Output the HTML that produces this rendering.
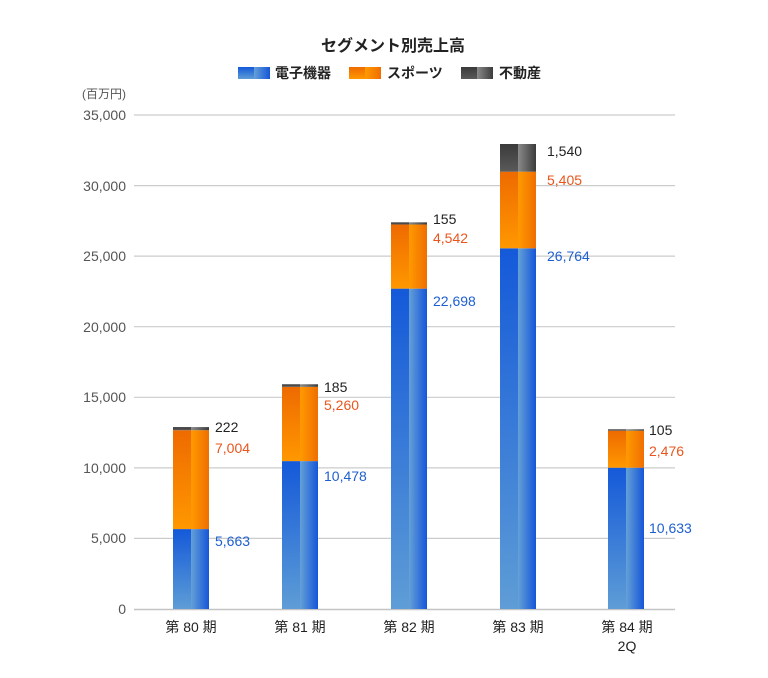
<!DOCTYPE html>
<html><head><meta charset="utf-8"><style>
html,body{margin:0;padding:0;background:#fff;}
svg{display:block;}
text{font-family:"Liberation Sans","Noto Sans CJK JP",sans-serif;}
</style></head><body>
<svg width="768" height="678" viewBox="0 0 768 678" xmlns="http://www.w3.org/2000/svg">
<defs>
<linearGradient id="bL" x1="0" y1="0" x2="0" y2="1"><stop offset="0" stop-color="#1459d9"/><stop offset="1" stop-color="#5e9dd6"/></linearGradient>
<linearGradient id="bR" x1="0" y1="0" x2="1" y2="0"><stop offset="0" stop-color="#64a0d8"/><stop offset="1" stop-color="#1656d8"/></linearGradient>
<linearGradient id="oL" x1="0" y1="0" x2="0" y2="1"><stop offset="0" stop-color="#ee6a00"/><stop offset="1" stop-color="#ff9800"/></linearGradient>
<linearGradient id="oR" x1="0" y1="0" x2="1" y2="0"><stop offset="0" stop-color="#ff9a00"/><stop offset="1" stop-color="#f06e00"/></linearGradient>
<linearGradient id="gL" x1="0" y1="0" x2="0" y2="1"><stop offset="0" stop-color="#3a3a3a"/><stop offset="1" stop-color="#5a5a5a"/></linearGradient>
<linearGradient id="gR" x1="0" y1="0" x2="1" y2="0"><stop offset="0" stop-color="#8a8a8a"/><stop offset="1" stop-color="#3c3c3c"/></linearGradient>
</defs>

<text x="393" y="51" text-anchor="middle" font-size="16" font-weight="bold" fill="#222">セグメント別売上高</text>

<!-- legend -->
<rect x="238" y="67" width="16" height="12" fill="url(#bL)"/><rect x="254" y="67" width="16" height="12" fill="url(#bR)"/>
<text x="275" y="78" font-size="14" font-weight="bold" fill="#222">電子機器</text>
<rect x="349" y="67" width="16" height="12" fill="url(#oL)"/><rect x="365" y="67" width="16" height="12" fill="url(#oR)"/>
<text x="387" y="78" font-size="14" font-weight="bold" fill="#222">スポーツ</text>
<rect x="461" y="67" width="16" height="12" fill="url(#gL)"/><rect x="477" y="67" width="16" height="12" fill="url(#gR)"/>
<text x="499" y="78" font-size="14" font-weight="bold" fill="#222">不動産</text>

<text x="82" y="98" font-size="12" fill="#555">(百万円)</text>

<!-- grid -->
<g stroke="#cccccc" stroke-width="1.2">
<line x1="134" y1="115" x2="675" y2="115"/>
<line x1="134" y1="185.6" x2="675" y2="185.6"/>
<line x1="134" y1="256.1" x2="675" y2="256.1"/>
<line x1="134" y1="326.7" x2="675" y2="326.7"/>
<line x1="134" y1="397.3" x2="675" y2="397.3"/>
<line x1="134" y1="467.9" x2="675" y2="467.9"/>
<line x1="134" y1="538.4" x2="675" y2="538.4"/>
</g>
<line x1="134" y1="609.5" x2="675" y2="609.5" stroke="#c4c4c4" stroke-width="1.5"/>

<g font-size="14" fill="#555" text-anchor="end">
<text x="126" y="120">35,000</text>
<text x="126" y="191">30,000</text>
<text x="126" y="261">25,000</text>
<text x="126" y="332">20,000</text>
<text x="126" y="402">15,000</text>
<text x="126" y="473">10,000</text>
<text x="126" y="543">5,000</text>
<text x="126" y="614">0</text>
</g>

<!-- bars -->
<!-- 80 -->
<rect x="173" y="529.07" width="18" height="79.93" fill="url(#bL)"/><rect x="191" y="529.07" width="18" height="79.93" fill="url(#bR)"/>
<rect x="173" y="430.21" width="18" height="98.86" fill="url(#oL)"/><rect x="191" y="430.21" width="18" height="98.86" fill="url(#oR)"/>
<rect x="173" y="427.08" width="18" height="3.13" fill="url(#gL)"/><rect x="191" y="427.08" width="18" height="3.13" fill="url(#gR)"/>
<!-- 81 -->
<rect x="282" y="461.11" width="18" height="147.89" fill="url(#bL)"/><rect x="300" y="461.11" width="18" height="147.89" fill="url(#bR)"/>
<rect x="282" y="386.87" width="18" height="74.24" fill="url(#oL)"/><rect x="300" y="386.87" width="18" height="74.24" fill="url(#oR)"/>
<rect x="282" y="384.26" width="18" height="2.61" fill="url(#gL)"/><rect x="300" y="384.26" width="18" height="2.61" fill="url(#gR)"/>
<!-- 82 -->
<rect x="391" y="288.63" width="18" height="320.37" fill="url(#bL)"/><rect x="409" y="288.63" width="18" height="320.37" fill="url(#bR)"/>
<rect x="391" y="224.52" width="18" height="64.11" fill="url(#oL)"/><rect x="409" y="224.52" width="18" height="64.11" fill="url(#oR)"/>
<rect x="391" y="222.33" width="18" height="2.19" fill="url(#gL)"/><rect x="409" y="222.33" width="18" height="2.19" fill="url(#gR)"/>
<!-- 83 -->
<rect x="500" y="248.3" width="18" height="360.7" fill="url(#bL)"/><rect x="518" y="248.3" width="18" height="360.7" fill="url(#bR)"/>
<rect x="500" y="171.7" width="18" height="76.6" fill="url(#oL)"/><rect x="518" y="171.7" width="18" height="76.6" fill="url(#oR)"/>
<rect x="500" y="144" width="18" height="27.7" fill="url(#gL)"/><rect x="518" y="144" width="18" height="27.7" fill="url(#gR)"/>
<!-- 84 -->
<rect x="608" y="467.7" width="18" height="141.3" fill="url(#bL)"/><rect x="626" y="467.7" width="18" height="141.3" fill="url(#bR)"/>
<rect x="608" y="430.7" width="18" height="37" fill="url(#oL)"/><rect x="626" y="430.7" width="18" height="37" fill="url(#oR)"/>
<rect x="608" y="429.3" width="18" height="1.4" fill="url(#gL)"/><rect x="626" y="429.3" width="18" height="1.4" fill="url(#gR)"/>

<!-- value labels -->
<g font-size="14">
<text x="215" y="432" fill="#222">222</text>
<text x="215" y="453" fill="#e8561e">7,004</text>
<text x="215" y="546" fill="#1e5fd0">5,663</text>

<text x="324" y="392" fill="#222">185</text>
<text x="324" y="410" fill="#e8561e">5,260</text>
<text x="324" y="481" fill="#1e5fd0">10,478</text>

<text x="433" y="224" fill="#222">155</text>
<text x="433" y="243" fill="#e8561e">4,542</text>
<text x="433" y="306" fill="#1e5fd0">22,698</text>

<text x="547" y="156" fill="#222">1,540</text>
<text x="547" y="185" fill="#e8561e">5,405</text>
<text x="547" y="261" fill="#1e5fd0">26,764</text>

<text x="649" y="435" fill="#222">105</text>
<text x="649" y="456" fill="#e8561e">2,476</text>
<text x="649" y="533" fill="#1e5fd0">10,633</text>
</g>

<!-- x labels -->
<g font-size="14" fill="#222" text-anchor="middle">
<text x="191" y="632">第 80 期</text>
<text x="300" y="632">第 81 期</text>
<text x="409" y="632">第 82 期</text>
<text x="518" y="632">第 83 期</text>
<text x="627" y="632">第 84 期</text>
<text x="627" y="651">2Q</text>
</g>
</svg>
</body></html>
